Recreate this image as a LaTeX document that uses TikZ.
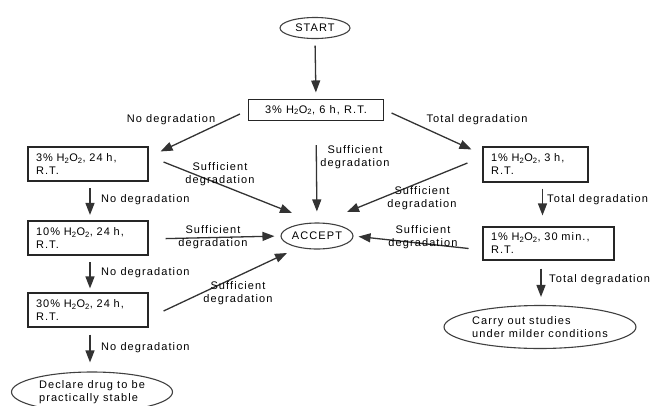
\documentclass[tikz,border=0pt]{standalone}
\usepackage{fontspec}
\setmainfont{Liberation Sans}[LetterSpace=10]
\usetikzlibrary{arrows.meta,shapes.geometric}
\begin{document}
\begin{tikzpicture}[x=1pt,y=-1pt,
  every node/.style={font=\fontsize{11}{13}\selectfont},
  box/.style={draw, line width=1.1pt, draw=black!85, rectangle, inner xsep=8pt, inner ysep=2pt, align=left, minimum height=34pt},
  oval/.style={draw, line width=1.1pt, draw=black!75, ellipse, inner sep=0pt, align=left},
  arr/.style={line width=1.3pt, draw=black!80, -{Triangle[length=12pt,width=9pt]}},
  lbl/.style={inner sep=0pt, align=center},
  lblw/.style={inner sep=0pt, anchor=west}]
\useasboundingbox (0,0) rectangle (654,405);
% nodes
\node[oval, minimum width=70pt, minimum height=21pt] (start) at (315,28) {START};
\node[box, minimum height=21pt, minimum width=135pt, align=center] (b1) at (316,110) {3\% H\textsubscript{2}O\textsubscript{2}, 6 h, R.T.};
\node[box, text width=104pt] (b2) at (88,164) {3\% H\textsubscript{2}O\textsubscript{2}, 24 h,\\R.T.};
\node[box, text width=89pt, minimum height=35pt] (b3) at (535.5,164.5) {1\% H\textsubscript{2}O\textsubscript{2}, 3 h,\\R.T.};
\node[box, text width=104pt] (b4) at (88,238) {10\% H\textsubscript{2}O\textsubscript{2}, 24 h,\\R.T.};
\node[box, text width=104pt] (b5) at (88,310) {30\% H\textsubscript{2}O\textsubscript{2}, 24 h,\\R.T.};
\node[box, text width=115pt, minimum height=33pt] (b6) at (548.5,243.5) {1\% H\textsubscript{2}O\textsubscript{2}, 30 min.,\\R.T.};
\node[oval, minimum width=72pt, minimum height=26pt] (accept) at (317,236) {ACCEPT};
\node[oval, minimum width=161pt, minimum height=40pt] (stable) at (92,392) {Declare drug to be\\practically stable};
\node[oval, minimum width=170pt, minimum height=43pt] (milder) at (540,327) {Carry out studies\\under milder conditions};
% arrows
\draw[arr, shorten <=6.5pt, shorten >=6.5pt] (start.south) -- (b1.north);
\draw[arr] ([shift={(-8,4)}]b1.west) -- ([shift={(12,5)}]b2.north east);
\draw[arr] ([shift={(7.5,3)}]b1.east) -- ([shift={(-11,3)}]b3.north west);
\draw[arr, shorten <=24pt, shorten >=11pt] (b1.south) -- (accept.north);
\draw[arr] ([shift={(15,-2)}]b2.east) -- ([shift={(-25,-23)}]accept.center);
\draw[arr] ([shift={(-15,-1.5)}]b3.west) -- ([shift={(30,-24)}]accept.center);
\draw[arr, shorten <=6.5pt, shorten >=5.5pt] ([xshift=2]b2.south) -- ([xshift=2]b4.north);
\draw[arr, shorten <=17pt, shorten >=6pt] ([yshift=-1]b4.east) -- (accept.west);
\draw[arr, shorten <=6.5pt, shorten >=4pt] ([xshift=2]b4.south) -- ([xshift=2]b5.north);
\draw[arr] ([shift={(15,1)}]b5.east) -- ([shift={(-30,17)}]accept.center);
\draw[arr, shorten <=7pt, shorten >=9pt] ([xshift=2]b5.south) -- ([xshift=-2]stable.north);
\draw[arr, shorten <=6pt, shorten >=11pt] ([xshift=7]b3.south) -- ([xshift=7]b3.south |- b6.north);
\draw[arr, shorten <=14pt, shorten >=5pt] ([yshift=-6.5]b6.west) -- (accept.east);
\draw[arr, shorten <=8pt, shorten >=8pt] ([xshift=-7.5]b6.south) -- ([xshift=1]milder.north);
% labels
\node[lbl] (l1) at (171,120) {No degradation};
\node[lbl] (l2) at (477,120) {Total degradation};
\node[lbl] (l3) at (355,157) {Sufficient\\degradation};
\node[lbl] (l4) at (220,174) {Sufficient\\degradation};
\node[lbl] (l5) at (422,198) {Sufficient\\degradation};
\node[lbl] (l6) at (213,237) {Sufficient\\degradation};
\node[lbl] (l7) at (238,293) {Sufficient\\degradation};
\node[lbl] (l8) at (423,237) {Sufficient\\degradation};
\node[lblw] (l9) at (101,200) {No degradation};
\node[lblw] (l10) at (101,273) {No degradation};
\node[lblw] (l11) at (101,348) {No degradation};
\node[lblw] (l12) at (547,200) {Total degradation};
\node[lblw] (l13) at (549,280) {Total degradation};
\end{tikzpicture}
\end{document}
